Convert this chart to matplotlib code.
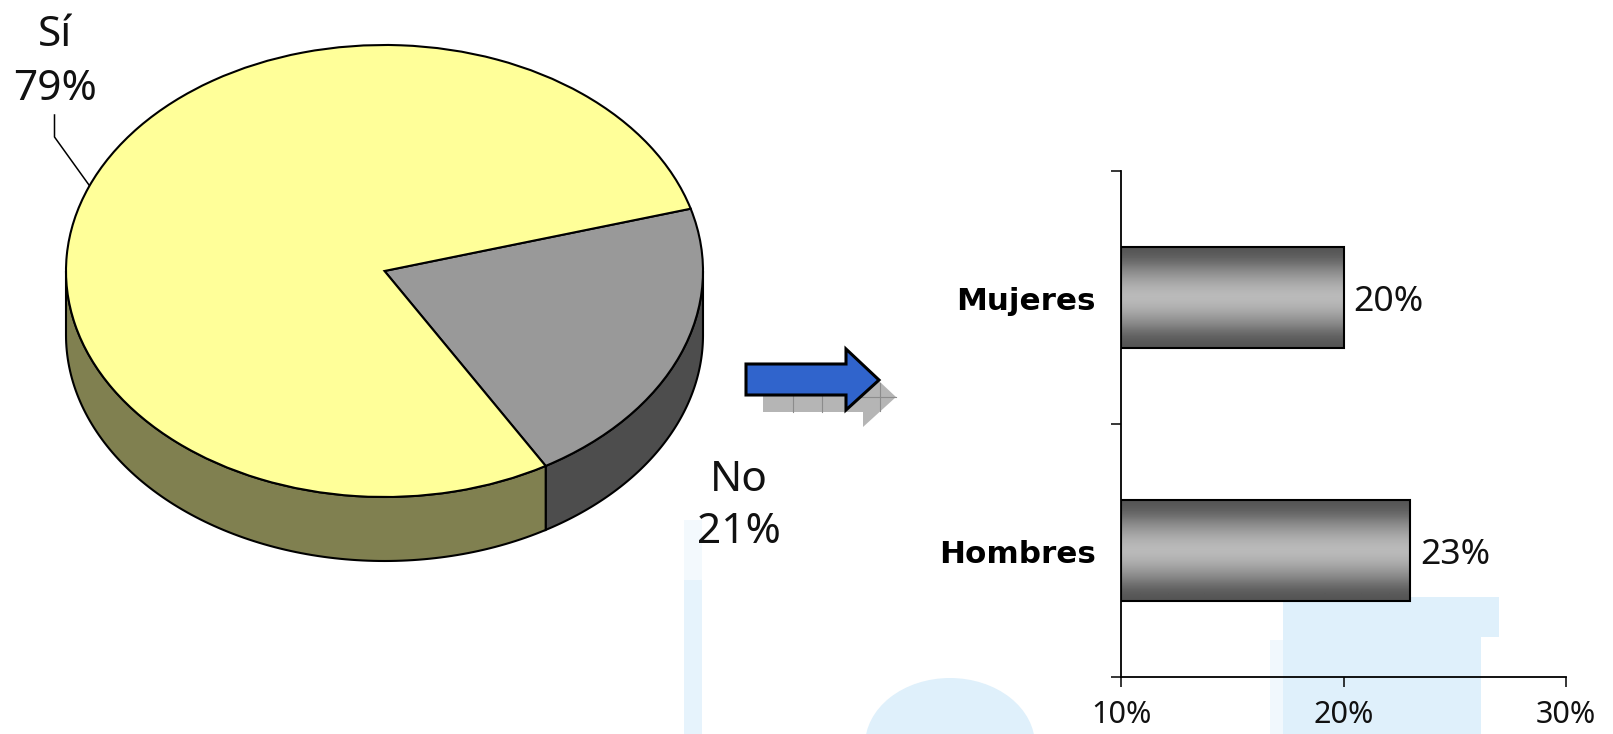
import numpy as np
import matplotlib
matplotlib.use("Agg")
import matplotlib.pyplot as plt
from matplotlib.patches import Polygon, Rectangle, Ellipse

# Data
pie_labels = ["No", "Sí"]
pie_values = [21, 79]
bar_labels = ["Hombres", "Mujeres"]
bar_values = [23, 20]
x_ticks = [10, 20, 30]

W, H = 1613, 734
plt.rcParams["font.family"] = ["Noto Sans", "DejaVu Sans"]

fig = plt.figure(figsize=(W / 100, H / 100), dpi=100)


def px_axes(left, top, right, bottom, **kw):
    return fig.add_axes([left / W, 1 - bottom / H, (right - left) / W, (bottom - top) / H], **kw)


# Pale watermark behind everything
bg = fig.add_axes([0, 0, 1, 1], zorder=0)
bg.set_xlim(0, W)
bg.set_ylim(H, 0)
bg.axis("off")
bg.add_patch(Rectangle((1283, 597), 216, 40, color="#dff0fb", lw=0))
bg.add_patch(Rectangle((1283, 637), 198, 97, color="#dff0fb", lw=0))
bg.add_patch(Rectangle((1270, 640), 13, 94, color="#f1f8fd", lw=0))
bg.add_patch(Rectangle((684, 520), 18, 60, color="#f3f9fd", lw=0))
bg.add_patch(Rectangle((684, 580), 18, 154, color="#e6f3fc", lw=0))
bg.add_patch(Ellipse((950, 745), 170, 134, color="#dff0fb", lw=0))

# Pie, squashed by switching off the equal aspect
depth = 64 / 226
pie_ax = px_axes(66, 45, 703, 561, zorder=1)
start = 16
wedges, _ = pie_ax.pie(pie_values, startangle=start, counterclock=False,
                       colors=["#999999", "#ffff99"],
                       wedgeprops={"edgecolor": "black", "linewidth": 1.5, "zorder": 3})
pie_ax.set_aspect("auto")
pie_ax.set_xlim(-1, 1)
pie_ax.set_ylim(-1 - depth, 1)

# Side wall of the pie, below the top face
no_end = start - pie_values[0] / sum(pie_values) * 360


def side(a0, a1, color):
    t = np.radians(np.linspace(a0, a1, 120))
    xs = np.cos(t)
    ys = np.sin(t)
    pts = np.r_[np.c_[xs, ys], np.c_[xs, ys - depth][::-1]]
    pie_ax.add_patch(Polygon(pts, closed=True, facecolor=color, edgecolor="black",
                             linewidth=1.5, zorder=2, clip_on=False))


side(no_end, 0, "#4d4d4d")
side(180, 360 + no_end, "#808050")

# Bars
ax = px_axes(1121, 171, 1566, 677, zorder=1)
ax.patch.set_alpha(0)
y = [0.5, 1.5]
bars = ax.barh(y, [v - x_ticks[0] for v in bar_values], left=x_ticks[0], height=0.4,
               facecolor="none", edgecolor="black", linewidth=1.5, zorder=3)
grad = np.array([0.33, 0.40, 0.52, 0.62, 0.70, 0.74, 0.70, 0.62, 0.52, 0.40, 0.33])
for bar, name, val in zip(bars, bar_labels, bar_values):
    ext = (bar.get_x(), bar.get_x() + bar.get_width(), bar.get_y(), bar.get_y() + bar.get_height())
    ax.imshow(grad[:, None], extent=ext, cmap="gray", vmin=0, vmax=1, aspect="auto",
              interpolation="bicubic", zorder=2)
    cy = bar.get_y() + bar.get_height() / 2
    ax.annotate(f"{val}%", (val, cy), xytext=(7, -3), textcoords="offset points",
                ha="left", va="center", fontsize=25.5, color="#111111")
    # Noto Sans has no bold here
    ax.annotate(name, (x_ticks[0], cy), xytext=(-18, -3), textcoords="offset points",
                ha="right", va="center", fontsize=22.3, fontweight="bold",
                family="DejaVu Sans", color="black")

ax.set_xlim(x_ticks[0], x_ticks[-1])
ax.set_ylim(0, 2)
ax.set_xticks(x_ticks)
ax.set_xticklabels([f"{t}%" for t in x_ticks], fontsize=22, color="#111111")
ax.set_yticks([0, 1, 2])
ax.set_yticklabels([])
ax.tick_params(length=7.5, width=1.1, pad=9)
for s in ["top", "right"]:
    ax.spines[s].set_visible(False)
for s in ["left", "bottom"]:
    ax.spines[s].set_linewidth(1.3)

# Annotations and the arrow, in pixel coordinates
top = fig.add_axes([0, 0, 1, 1], zorder=5)
top.set_xlim(0, W)
top.set_ylim(H, 0)
top.axis("off")
top.plot([54.5, 54.5, 89], [115, 137, 185], color="black", lw=1.1)
for x_, y_, s in [(55, 35, "Sí"), (55, 89, "79%"), (739, 480, "No"), (739, 532, "21%")]:
    top.text(x_, y_, s, ha="center", va="center", fontsize=30.5, color="#111111")

arrow = np.array([[746, 364], [846, 364], [846, 349], [879, 380], [846, 410], [846, 395], [746, 395]])
shadow = arrow + 17
top.add_patch(Polygon(shadow, closed=True, facecolor="#b5b5b5", edgecolor="none", zorder=1))
for gx in [793, 822]:
    top.plot([gx, gx], [395, 412], color="#8c8c8c", lw=0.8, zorder=2)
top.plot([880, 880], [383, 411], color="#8c8c8c", lw=0.8, zorder=2)
top.plot([846, 896], [397, 397], color="#8c8c8c", lw=0.8, zorder=2)
top.add_patch(Polygon(arrow, closed=True, facecolor="#3064cc", edgecolor="black", linewidth=2.2, zorder=3))

fig.savefig("out.png", dpi=100)
